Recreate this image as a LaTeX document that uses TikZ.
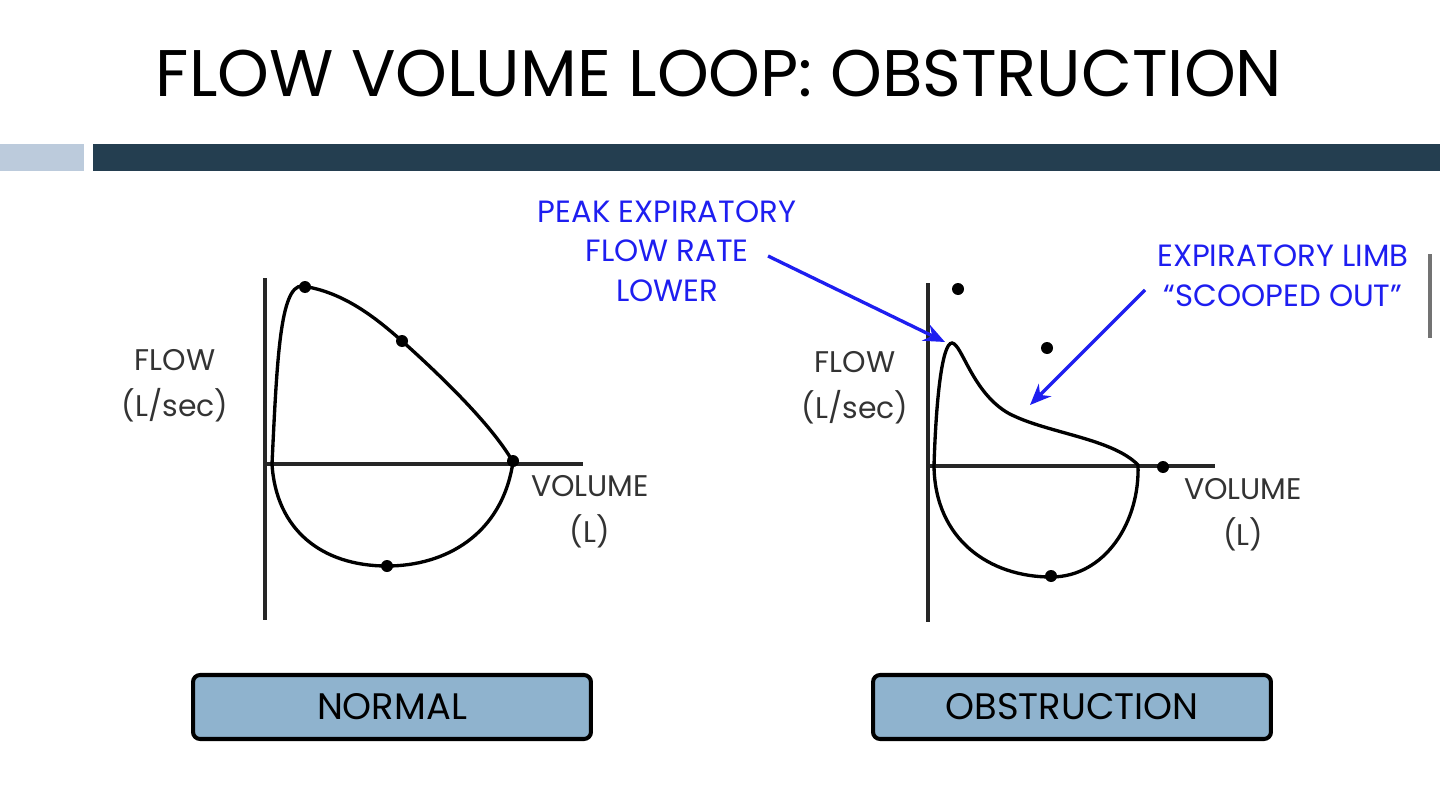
\documentclass[tikz,border=0pt]{standalone}
\usepackage{fontspec}
\setmainfont{Poppins}
\usetikzlibrary{arrows.meta}
\definecolor{notblue}{HTML}{1E1EF0}
\definecolor{tagblue}{HTML}{8FB3CE}
\definecolor{darkbar}{HTML}{243E50}
\definecolor{lightbar}{HTML}{BCCBDC}

\begin{document}
\begin{tikzpicture}[x = 0.02cm, y = -0.02cm,
    axis/.style = {line width = 2pt, black!85},
    curve/.style = {line width = 1.9pt, black},
    dot/.style = {circle, fill = black, inner sep = 0pt, minimum size = 0.24cm},
    axislabel/.style = {align = center, text = black!80, font = \fontsize{17}{26}\selectfont},
    note/.style = {align = center, text = notblue, font = \fontsize{17.5}{22.5}\selectfont},
    pointer/.style = {-{Stealth[length = 12pt, width = 10pt]}, line width = 1.9pt, notblue},
    tag/.style = {draw, line width = 2.3pt, fill = tagblue, rounded corners = 4pt,
        minimum width = 7.96cm, minimum height = 1.28cm, font = \fontsize{21}{24}\selectfont}]
    \useasboundingbox (0,0) rectangle (1440,794);

    % title and bars
    \node (title) at (719,73) {\fontsize{37.5}{40}\selectfont FLOW VOLUME LOOP: OBSTRUCTION};
    \fill[lightbar] (0,144) rectangle (84,171);
    \fill[darkbar] (93,144) rectangle (1440,171);

    % normal loop
    \draw[axis] (265,278) -- (265,620);
    \draw[axis] (265,464) -- (583,464);
    \draw[curve] (272,464) .. controls (277,360) and (280,286) .. (302,286)
        .. controls (345,292) and (378,320) .. (402,341)
        .. controls (440,375) and (492,425) .. (513,462)
        .. controls (502,535) and (445,566) .. (387,566)
        .. controls (322,566) and (276,530) .. (272,464);
    \node[dot] (n1) at (305,287) {};
    \node[dot] (n2) at (402,341) {};
    \node[dot] (n3) at (513,461) {};
    \node[dot] (n4) at (387,566) {};
    \node[axislabel] (nflow) at (175,386) {FLOW\\(L/sec)};
    \node[axislabel] (nvol) at (590,512) {VOLUME\\(L)};

    % obstructive loop
    \draw[axis] (928,283) -- (928,622);
    \draw[axis] (928,466) -- (1215,466);
    \draw[curve] (934,466) .. controls (936,400) and (942,343) .. (952,343)
        .. controls (962,344) and (972,392) .. (1008,413)
        .. controls (1045,433) and (1112,438) .. (1138,465)
        .. controls (1140,522) and (1105,577) .. (1051,577)
        .. controls (990,577) and (935,540) .. (934,466);
    \coordinate (peak) at (945,342);
    \coordinate (limb) at (1030,405);
    \node[dot] (o1) at (958,289) {};
    \node[dot] (o2) at (1047,348) {};
    \node[dot] (o3) at (1163,467) {};
    \node[dot] (o4) at (1051,576) {};
    \node[axislabel] (oflow) at (855,388) {FLOW\\(L/sec)};
    \node[axislabel] (ovol) at (1243,515) {VOLUME\\(L)};

    % notes
    \node[note] (pefr) at (667,251) {PEAK EXPIRATORY\\FLOW RATE\\LOWER};
    \node[note] (scoop) at (1283,276) {EXPIRATORY LIMB\\``SCOOPED OUT''};
    \coordinate (pefrtail) at (768,256);
    \coordinate (scooptail) at (1145,290);
    \draw[pointer] (pefrtail) -- (peak);
    \draw[pointer] (scooptail) -- (limb);
    \draw[line width = 2pt, black!55] (1430,254) -- (1430,338);

    % captions
    \node[tag] (normal) at (392,707) {NORMAL};
    \node[tag] (obstr) at (1072,707) {OBSTRUCTION};
\end{tikzpicture}
\end{document}
